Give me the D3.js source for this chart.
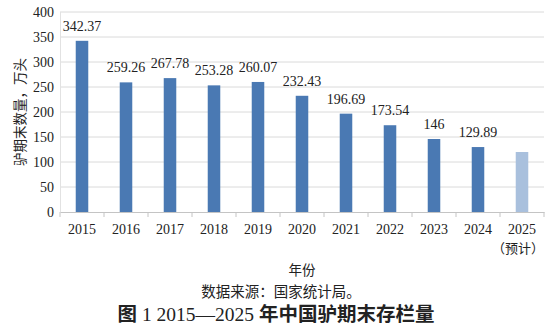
<!DOCTYPE html>
<html>
<head>
<meta charset="utf-8">
<script src="https://cdn.jsdelivr.net/npm/d3@7"></script>
<style>
  html, body { margin: 0; padding: 0; background: #fff; }
  svg { display: block; }
  text { fill: #222; }
</style>
</head>
<body>
<svg id="chart" width="556" height="330"></svg>
<script>
// Year-end donkey stock in China, 10k head
const years = ["2015","2016","2017","2018","2019","2020","2021","2022","2023","2024","2025"];
const stock = [342.37, 259.26, 267.78, 253.28, 260.07, 232.43, 196.69, 173.54, 146, 129.89, 120];
const valueLabels = ["342.37","259.26","267.78","253.28","260.07","232.43","196.69","173.54","146","129.89",""];
const forecastYears = ["2025"];
const yTicks = [0, 50, 100, 150, 200, 250, 300, 350, 400];

const serif = "'Liberation Serif', 'Times New Roman', 'Noto Sans CJK SC', serif";
const cjk = "'Noto Sans CJK SC', sans-serif";

const svg = d3.select("#chart");
const plotLeft = 60, plotRight = 544, plotTop = 12, plotBottom = 212;

const x = d3.scaleBand().domain(years).range([plotLeft, plotRight])
  .paddingInner(0.715).paddingOuter(0.3575);
const y = d3.scaleLinear().domain([0, 400]).range([plotBottom, plotTop]);

// horizontal gridlines
svg.append("g").selectAll("line")
  .data(yTicks.filter(d => d > 0))
  .join("line")
  .attr("x1", plotLeft).attr("x2", plotRight)
  .attr("y1", d => y(d)).attr("y2", d => y(d))
  .attr("stroke", "#dadada").attr("stroke-width", 1);

// left edge of plot
svg.append("line")
  .attr("x1", plotLeft + 0.5).attr("x2", plotLeft + 0.5)
  .attr("y1", y(400)).attr("y2", y(0))
  .attr("stroke", "#e2e2e2");

// y axis labels
const yAxis = svg.append("g")
  .attr("transform", `translate(${plotLeft},0)`)
  .call(d3.axisLeft(y).tickValues(yTicks).tickSize(0).tickPadding(6));
yAxis.select(".domain").remove();
yAxis.selectAll("text")
  .attr("font-family", serif).attr("font-size", 14).style("fill", "#222");

// bars
svg.append("g").selectAll("rect")
  .data(years.map((yr, i) => ({ yr, v: stock[i] })))
  .join("rect")
  .attr("x", d => x(d.yr))
  .attr("width", x.bandwidth())
  .attr("y", d => y(d.v))
  .attr("height", d => y(0) - y(d.v))
  .attr("fill", d => forecastYears.includes(d.yr) ? "#a9c0dd" : "#4a79b3");

// value labels
svg.append("g").selectAll("text")
  .data(years.map((yr, i) => ({ yr, v: stock[i], t: valueLabels[i] })))
  .join("text")
  .attr("x", d => x(d.yr) + x.bandwidth() / 2)
  .attr("y", d => y(d.v) - 10)
  .attr("text-anchor", "middle")
  .attr("font-family", serif).attr("font-size", 14)
  .text(d => d.t);

// x axis baseline and ticks between categories
const xAxis = svg.append("g")
  .attr("transform", `translate(0,${plotBottom})`)
  .call(d3.axisBottom(x).tickSize(0).tickPadding(12));
xAxis.select(".domain").attr("stroke", "#c4c4c4");
xAxis.selectAll("text")
  .attr("font-family", serif).attr("font-size", 14).style("fill", "#222");

const step = x.step();
svg.append("g").selectAll("line")
  .data(d3.range(years.length + 1))
  .join("line")
  .attr("x1", i => plotLeft + i * step).attr("x2", i => plotLeft + i * step)
  .attr("y1", plotBottom).attr("y2", plotBottom + 5)
  .attr("stroke", "#c4c4c4");

// forecast note under 2025
svg.append("text")
  .attr("x", x("2025") + x.bandwidth() / 2 - 4)
  .attr("y", 253)
  .attr("text-anchor", "middle")
  .attr("font-family", cjk).attr("font-size", 13)
  .text("（预计）");

// axis titles
svg.append("text")
  .attr("transform", `translate(19,${(plotTop + plotBottom) / 2}) rotate(-90)`)
  .attr("text-anchor", "middle")
  .attr("dominant-baseline", "central")
  .attr("font-family", cjk).attr("font-size", 13.5)
  .text("驴期末数量，万头");

svg.append("text")
  .attr("x", (plotLeft + plotRight) / 2).attr("y", 275)
  .attr("text-anchor", "middle")
  .attr("font-family", cjk).attr("font-size", 13.5)
  .text("年份");

svg.append("text")
  .attr("x", 281).attr("y", 297)
  .attr("text-anchor", "middle")
  .attr("font-family", cjk).attr("font-size", 14.5)
  .text("数据来源：国家统计局。");

// figure caption
const cap = svg.append("text")
  .attr("x", 276).attr("y", 321)
  .attr("text-anchor", "middle")
  .attr("font-size", 19.5);
cap.append("tspan").attr("font-family", cjk).attr("font-weight", "bold").text("图");
cap.append("tspan").attr("font-family", serif).text(" 1 2015—2025 ");
cap.append("tspan").attr("font-family", cjk).attr("font-weight", "bold").text("年中国驴期末存栏量");
</script>
</body>
</html>
